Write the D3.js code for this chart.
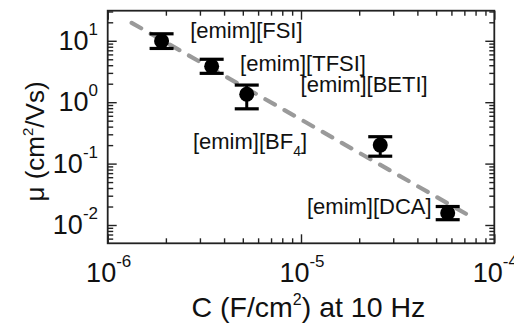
<!DOCTYPE html>
<html>
<head>
<meta charset="utf-8">
<script src="https://cdn.jsdelivr.net/npm/d3@7"></script>
<style>
  body { margin: 0; background: #fff; }
  text { font-family: "Liberation Sans", Arial, sans-serif; fill: #111; }
</style>
</head>
<body>
<svg id="chart" width="514" height="327"></svg>
<script>
// values
const liquids = ['[emim][FSI]', '[emim][TFSI]', '[emim][BETI]', '[emim][BF4]', '[emim][DCA]'];
const capacitance = [1.90e-6, 3.45e-6, 5.24e-6, 2.57e-5, 5.74e-5]; // F/cm2 at 10 Hz
const mobility = [9.9, 3.85, 1.35, 0.20, 0.0157]; // cm2/Vs
const mobilityLow = [7.5, 2.95, 0.78, 0.132, 0.0122];
const mobilityHigh = [13.0, 5.0, 1.9, 0.274, 0.0200];

// dashed guide line ends
const fitC = [1.33e-6, 7.48e-5];
const fitMu = [19.6, 0.0140];

// label anchors (left edge, baseline) in data units
const labelC = [2.67e-6, 4.84e-6, 9.95e-6, 2.76e-6, 1.074e-5];
const labelMu = [11.3, 3.28, 1.46, 0.173, 0.0151];

const xTickExp = [-6, -5, -4];
const yTickExp = [1, 0, -1, -2];

const W = 514, H = 327;
const margin = { top: 10.7, right: 19.7, bottom: 83.7, left: 107.7 };

const svg = d3.select('#chart');

const x = d3.scaleLog()
  .domain([1e-6, 1e-4])
  .range([margin.left, W - margin.right]);

const y = d3.scaleLog()
  .domain([Math.pow(10, -2.298), Math.pow(10, 1.49)])
  .range([H - margin.bottom, margin.top]);

const x0 = margin.left, x1 = W - margin.right;
const y0 = margin.top, y1 = H - margin.bottom;

// ticks, pointing inward on every side
const isMajor = (v) => Math.abs(Math.log10(v) - Math.round(Math.log10(v))) < 1e-9;
const xTicks = x.ticks();
const yTicks = y.ticks().filter((v) => y(v) > y0 + 0.5 && y(v) < y1 - 0.5);

function drawAxis(axisFn, scale, values, size, transform) {
  const g = svg.append('g')
    .attr('transform', transform)
    .call(axisFn(scale).tickValues(values).tickSizeInner(size).tickSizeOuter(0).tickFormat(() => ''));
  g.select('.domain').remove();
  g.selectAll('line').attr('stroke', '#222').attr('stroke-width', 1.4);
}

drawAxis(d3.axisBottom, x, xTicks.filter(isMajor), -9, `translate(0,${y1})`);
drawAxis(d3.axisBottom, x, xTicks.filter((v) => !isMajor(v)), -5, `translate(0,${y1})`);
drawAxis(d3.axisTop, x, xTicks.filter(isMajor), -9, `translate(0,${y0})`);
drawAxis(d3.axisTop, x, xTicks.filter((v) => !isMajor(v)), -5, `translate(0,${y0})`);
drawAxis(d3.axisLeft, y, yTicks.filter(isMajor), -9, `translate(${x0},0)`);
drawAxis(d3.axisLeft, y, yTicks.filter((v) => !isMajor(v)), -5.5, `translate(${x0},0)`);
drawAxis(d3.axisRight, y, yTicks.filter(isMajor), -9, `translate(${x1},0)`);
drawAxis(d3.axisRight, y, yTicks.filter((v) => !isMajor(v)), -5, `translate(${x1},0)`);

// frame
svg.append('rect')
  .attr('x', x0).attr('y', y0)
  .attr('width', x1 - x0).attr('height', y1 - y0)
  .attr('fill', 'none').attr('stroke', '#222').attr('stroke-width', 1.8);

// tick labels
xTickExp.forEach((e) => {
  const t = svg.append('text')
    .attr('x', x(Math.pow(10, e)) + 1)
    .attr('y', 282)
    .attr('text-anchor', 'middle')
    .style('font-size', '27px');
  t.append('tspan').text('10');
  t.append('tspan').attr('dy', -15).style('font-size', '17px').text(String(e));
});

yTickExp.forEach((e) => {
  const t = svg.append('text')
    .attr('x', 98)
    .attr('y', y(Math.pow(10, e)) + 9)
    .attr('text-anchor', 'end')
    .style('font-size', '27px');
  t.append('tspan').text('10');
  t.append('tspan').attr('dy', -15).style('font-size', '17px').text(String(e));
});

// axis titles
const xt = svg.append('text')
  .attr('x', 191.5).attr('y', 317)
  .style('font-size', '28.5px');
xt.append('tspan').text('C (F/cm');
xt.append('tspan').attr('dy', -12).style('font-size', '16px').text('2');
xt.append('tspan').attr('dy', 12).text(') at 10 Hz');

const yt = svg.append('text')
  .attr('transform', `translate(44,${(75 + 208) / 2}) rotate(-90)`)
  .attr('text-anchor', 'middle')
  .style('font-size', '26px');
yt.append('tspan').text('\u03bc (cm');
yt.append('tspan').attr('dy', -11).style('font-size', '15px').text('2');
yt.append('tspan').attr('dy', 11).text('/Vs)');

// dashed guide
svg.append('line')
  .attr('x1', x(fitC[0])).attr('y1', y(fitMu[0]))
  .attr('x2', x(fitC[1])).attr('y2', y(fitMu[1]))
  .attr('stroke', '#9a9a9a')
  .attr('stroke-width', 4.2)
  .attr('stroke-linecap', 'round')
  .attr('stroke-dasharray', '11,11');

// error bars and markers
const pts = capacitance.map((c, i) => ({ c, mu: mobility[i], lo: mobilityLow[i], hi: mobilityHigh[i] }));
const capW = 24;

const eb = svg.append('g').selectAll('g').data(pts).enter().append('g');
eb.append('line')
  .attr('x1', (d) => x(d.c)).attr('x2', (d) => x(d.c))
  .attr('y1', (d) => y(d.hi)).attr('y2', (d) => y(d.lo))
  .attr('stroke', '#000').attr('stroke-width', 3);
eb.append('line')
  .attr('x1', (d) => x(d.c) - capW / 2).attr('x2', (d) => x(d.c) + capW / 2)
  .attr('y1', (d) => y(d.hi)).attr('y2', (d) => y(d.hi))
  .attr('stroke', '#000').attr('stroke-width', 3.2);
eb.append('line')
  .attr('x1', (d) => x(d.c) - capW / 2).attr('x2', (d) => x(d.c) + capW / 2)
  .attr('y1', (d) => y(d.lo)).attr('y2', (d) => y(d.lo))
  .attr('stroke', '#000').attr('stroke-width', 3.2);
eb.append('circle')
  .attr('cx', (d) => x(d.c)).attr('cy', (d) => y(d.mu))
  .attr('r', 7.5)
  .attr('fill', '#000');

// labels
liquids.forEach((name, i) => {
  const t = svg.append('text')
    .attr('x', x(labelC[i]))
    .attr('y', y(labelMu[i]))
    .style('font-size', '22px');
  const m = name.match(/^(.*)BF4\]$/);
  if (m) {
    t.append('tspan').text(m[1] + 'BF');
    t.append('tspan').attr('dy', 7).style('font-size', '14px').text('4');
    t.append('tspan').attr('dy', -7).text(']');
  } else {
    t.text(name);
  }
});
</script>
</body>
</html>
